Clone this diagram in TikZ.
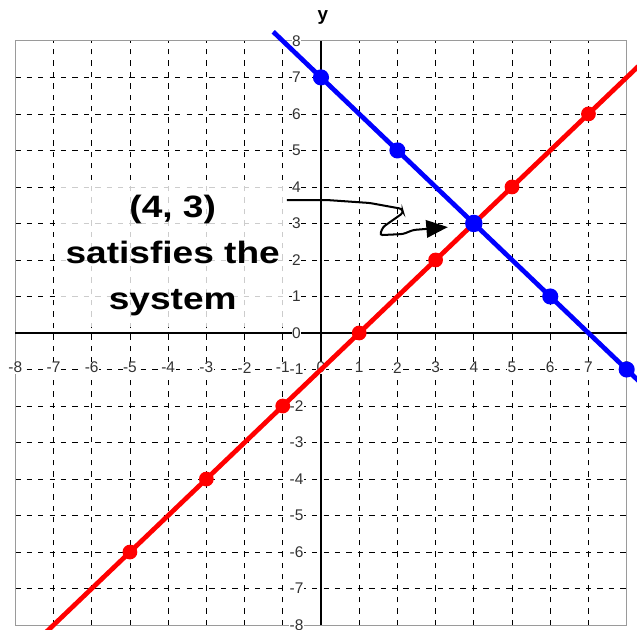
\documentclass[tikz,border=0pt]{standalone}
\usepackage{fontspec}
\setmainfont{Liberation Sans}
\usepackage{graphicx}
\usepackage{tikz}
\usetikzlibrary{arrows.meta}
\definecolor{redx}{HTML}{FF0000}
\definecolor{bluex}{HTML}{0000FF}
\definecolor{framex}{HTML}{9A9A9A}
\tikzset{
  gr/.style={black,line width=0.6pt,dash pattern=on 4pt off 4.5pt},
  fr/.style={framex,line width=0.8pt},
  ax/.style={black,line width=0.8pt},
  lnr/.style={redx,line width=3.5pt},
  lnb/.style={bluex,line width=3.5pt},
  lab/.style={font=\fontsize{11.5}{13}\selectfont,black!80,fill=white,inner sep=0.4pt},
  box/.style={fill=white,fill opacity=0.8,text opacity=1,minimum width=6cm,minimum height=3.82cm,inner sep=0pt,font=\fontsize{23}{34}\selectfont\bfseries},
  ar/.style={-{Triangle[length=16pt,width=13pt]},line width=1.5pt,black,rounded corners=2pt}
}

\begin{document}
\begin{tikzpicture}[x=1cm,y=0.9555cm]
\useasboundingbox (-8.40,-8.11) rectangle (8.27,9.12);
\foreach \i in {-7,...,7} {
  \draw[gr] (\i,-8) -- (\i,8);
  \draw[gr] (-8,\i) -- (8,\i);
}
\draw[fr] (-8,-8) rectangle (8,8);
\draw[ax] (-8,0) -- (8,0);
\draw[ax] (0,-8) -- (0,8);
\node[font=\fontsize{14}{16}\selectfont\bfseries] (ylab) at (0.05,8.63) {y};
\foreach \i in {-8,...,8} {
  \node[lab] (xt\i) at (\i,-0.95) {\i};
  \node[lab] (yt\i) at (-0.64,\i) {\i};
}
\node[box] (claim) at (-3.88,2.15) {\scalebox{1.2}[1]{\begin{tabular}{@{}c@{}}(4, 3)\\satisfies the\\system\end{tabular}}};
\draw[lnr,domain=-7.5:8.6,samples=2] plot (\x,{\x-1});
\draw[lnb,domain=-1.25:8.6,samples=2] plot (\x,{7-\x});
\foreach \i in {-5,-3,...,7}
  \fill[redx] (\i,{\i-1}) circle (5.5pt);
\foreach \i in {0,2,6,8}
  \fill[bluex] (\i,{7-\i}) circle (6pt);
\node[circle,fill=bluex,inner sep=0pt,minimum size=13pt] (sol) at (4,3) {};
\coordinate (arst) at (-0.89,3.64);
\coordinate (artip) at (3.32,2.90);
\draw[ar] (arst) -- (0.18,3.64) -- (1.28,3.56) -- (2.12,3.40) -- (2.15,3.29) -- (1.62,2.90) -- (1.54,2.68) -- (2.15,2.71) -- (2.41,2.82) -- (artip);
\end{tikzpicture}
\end{document}
